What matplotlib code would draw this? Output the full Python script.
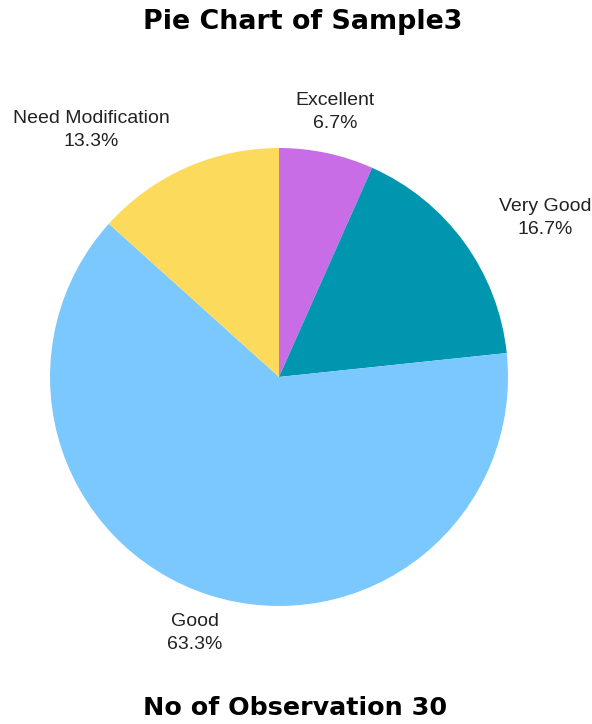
import matplotlib.pyplot as plt
import numpy as np

categories = ["Excellent", "Very Good", "Good", "Need Modification"]
counts = [2, 5, 19, 4]
colors = ["#C86DE6", "#0096B0", "#7AC8FD", "#FCDA5C"]
# label block centres in pie units (radius = 1)
label_xy = [(0.245, 1.157), (1.162, 0.694), (-0.367, -1.118), (-0.821, 1.079)]

total = sum(counts)

fig = plt.figure(figsize=(5.92, 7.24), dpi=100)
ax = fig.add_axes([0.0845, 0.163, 0.7736, 0.6326])

ax.pie(counts, colors=colors, startangle=90, counterclock=False,
       radius=1, wedgeprops=dict(linewidth=0))

for name, n, (x, y) in zip(categories, counts, label_xy):
    pct = 100 * n / total
    ax.text(x, y, f"{name}\n{pct:.1f}%", ha="center", va="center",
            fontsize=14, family="Liberation Sans", color="#222222",
            linespacing=1.45)

ax.set_xlim(-1, 1)
ax.set_ylim(-1, 1)
ax.set_aspect("equal")
ax.axis("off")

fig.text(0.512, 0.969, "Pie Chart of Sample3", ha="center", va="center",
         fontsize=19.4, fontweight="heavy", family="DejaVu Sans")
fig.text(0.498, 0.022, f"No of Observation {total}", ha="center", va="center",
         fontsize=18.3, fontweight="heavy", family="DejaVu Sans")

fig.savefig("out.png", dpi=100, facecolor="white")
